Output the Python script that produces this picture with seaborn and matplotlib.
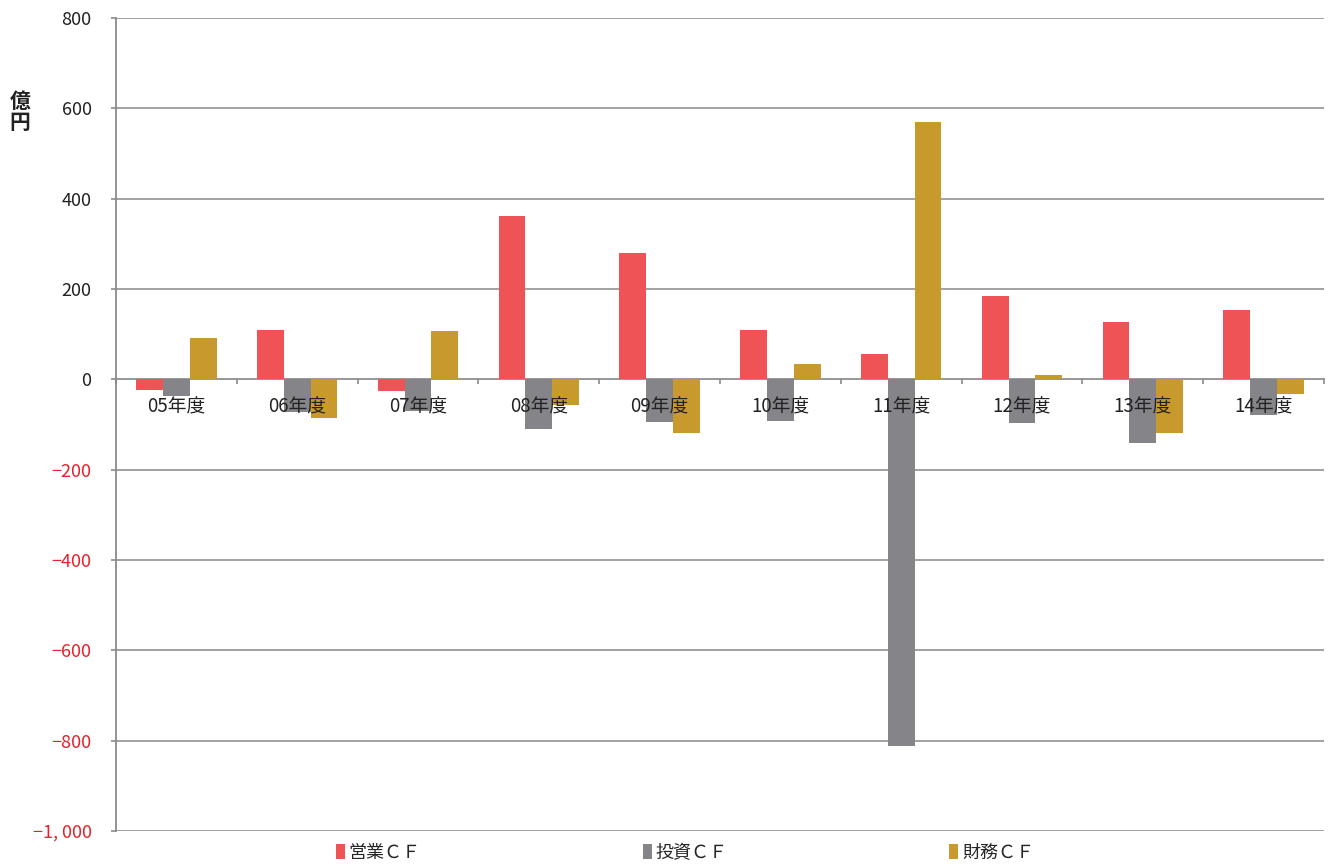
import matplotlib
matplotlib.use("Agg")
import matplotlib.pyplot as plt
import seaborn as sns
import pandas as pd
import numpy as np
from matplotlib.patches import Patch

years = ["05年度", "06年度", "07年度", "08年度", "09年度", "10年度", "11年度", "12年度", "13年度", "14年度"]
series_names = ["営業ＣＦ", "投資ＣＦ", "財務ＣＦ"]
eigyo = [-24, 109, -26, 361, 279, 109, 57, 185, 126, 154]
toshi = [-38, -73, -70, -111, -94, -92, -812, -96, -142, -78]
zaimu = [92, -85, 107, -56, -119, 35, 570, 10, -119, -33]
yticks = [800, 600, 400, 200, 0, -200, -400, -600, -800, -1000]
colors = ["#F05356", "#858589", "#C8992C"]

df = pd.DataFrame({
    "year": years * 3,
    "series": [series_names[0]] * 10 + [series_names[1]] * 10 + [series_names[2]] * 10,
    "value": eigyo + toshi + zaimu,
})

sns.set_theme(style="white")
fams = ["Noto Sans CJK JP", "DejaVu Sans"]
plt.rcParams["font.family"] = fams
plt.rcParams["axes.unicode_minus"] = True

fig = plt.figure(figsize=(13.32, 8.66), dpi=100)
ax = fig.add_axes([116 / 1332, 1 - 831 / 866, (1324 - 116) / 1332, (831 - 18) / 866])

sns.barplot(data=df, x="year", y="value", hue="series", order=years, hue_order=series_names,
            palette=colors, width=2 / 3, gap=0, ax=ax, legend=False, errorbar=None,
            saturation=1, linewidth=0)

ax.set_ylim(-1000, 800)
ax.set_xlim(-0.5, len(years) - 0.5)
ax.set_yticks(yticks)
ax.yaxis.grid(True, color="#9a9a9a", linewidth=1.3)
ax.set_axisbelow(True)

def fmt(v):
    s = "{:,}".format(abs(v)).replace(",", ", ")
    return ("−" + s) if v < 0 else s

ax.set_yticklabels([fmt(v) for v in yticks], fontsize=13)
for lab, v in zip(ax.get_yticklabels(), yticks):
    lab.set_color("#E8202A" if v < 0 else "#222222")
ax.tick_params(axis="y", which="major", length=3.6, width=1.2, color="#8a8a8a", pad=14, left=True)

for s in ["top", "right"]:
    ax.spines[s].set_visible(False)
ax.spines["left"].set_color("#8a8a8a")
ax.spines["left"].set_linewidth(1.3)
ax.spines["bottom"].set_position(("data", 0))
ax.spines["bottom"].set_color("#8a8a8a")
ax.spines["bottom"].set_linewidth(1.3)
ax.spines["bottom"].set_zorder(0.5)

ax.set_xticks(np.arange(len(years)))
ax.set_xticklabels(years, fontsize=13.5, color="#222222")
ax.tick_params(axis="x", which="major", length=0, pad=12)
ax.set_xticks(np.arange(len(years) + 1) - 0.5, minor=True)
ax.tick_params(axis="x", which="minor", length=3.6, width=1.2, color="#8a8a8a", bottom=True)
ax.xaxis.set_zorder(5)
ax.set_xlabel("")
ax.set_ylabel("")

fig.text(20 / 1332, 1 - 112 / 866, "億\n円", fontsize=15, fontweight="bold", ha="center", va="center",
         linespacing=0.95, color="#222222", family=["Noto Sans CJK JP", "DejaVu Sans"])

handles = [Patch(facecolor=c, edgecolor="none") for c in colors]
fig.legend(handles, series_names, loc="center", bbox_to_anchor=(685 / 1332, 1 - 853 / 866),
           ncol=3, frameon=False, fontsize=13, handlelength=0.5, handleheight=0.9,
           handletextpad=0.2, columnspacing=12.3)

fig.savefig("out.png", dpi=100)
